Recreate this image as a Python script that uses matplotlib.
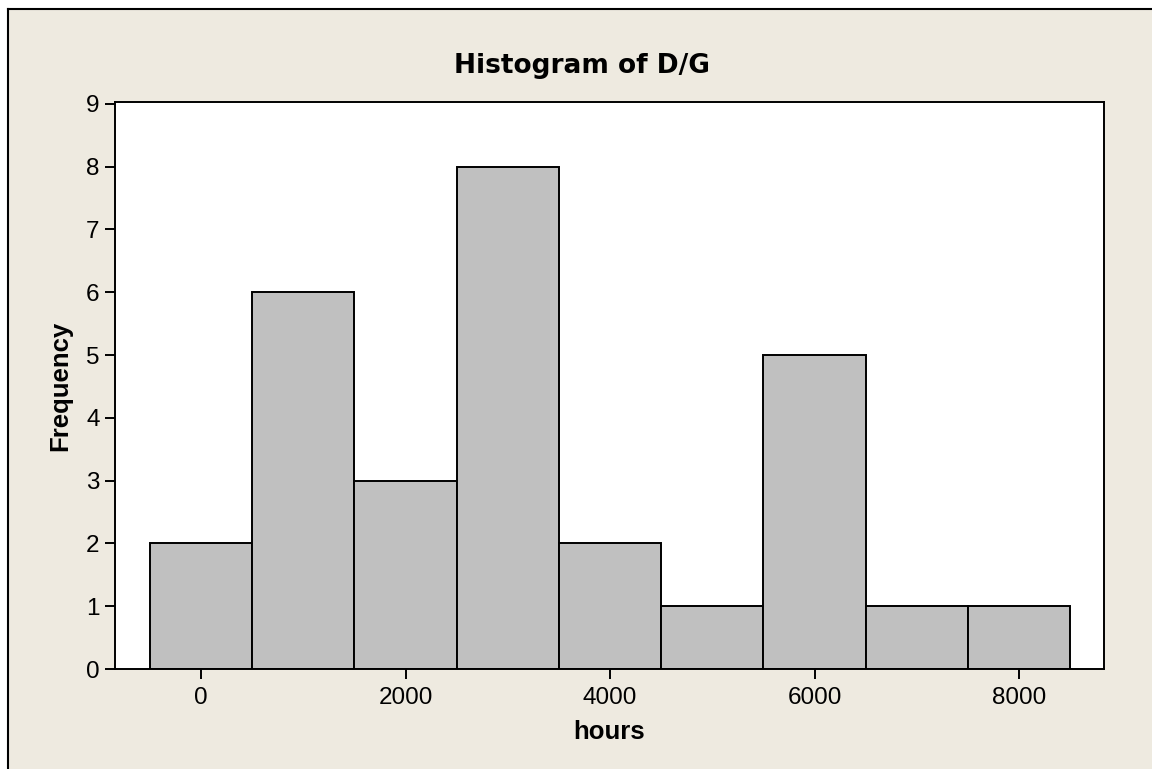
import matplotlib
matplotlib.use("Agg")
import matplotlib.pyplot as plt
from matplotlib.patches import Rectangle

# bin centers (hours) and counts
bin_centers = [0, 1000, 2000, 3000, 4000, 5000, 6000, 7000, 8000]
counts = [2, 6, 3, 8, 2, 1, 5, 1, 1]
bin_width = 1000
x_ticks = [0, 2000, 4000, 6000, 8000]
y_ticks = list(range(0, 10))

plt.rcParams['font.family'] = ['Liberation Sans', 'DejaVu Sans']

fig = plt.figure(figsize=(11.52, 7.69), dpi=100)
fig.patch.set_facecolor("white")

# beige graph region with frame on left/top
bg = Rectangle((8 / 1152, 0), 1.0, 1 - 9 / 769, transform=fig.transFigure,
               facecolor="#eeeae0", edgecolor="none", zorder=-2)
fig.patches.append(bg)
fig.add_artist(plt.Line2D([8 / 1152, 8 / 1152], [0, 1 - 9 / 769],
                          transform=fig.transFigure, color="black", lw=1.5))
fig.add_artist(plt.Line2D([8 / 1152, 1], [1 - 9 / 769, 1 - 9 / 769],
                          transform=fig.transFigure, color="black", lw=1.5))

ax = fig.add_axes([115 / 1152, 1 - 669 / 769, (1104 - 115) / 1152, (669 - 102) / 769])
ax.set_facecolor("white")

ax.bar(bin_centers, counts, width=bin_width, color="#c0c0c0",
       edgecolor="black", linewidth=1.4)

ax.set_xlim(-841, 8831)
ax.set_ylim(0, 9.03)
ax.set_xticks(x_ticks)
ax.set_yticks(y_ticks)
ax.tick_params(direction="out", length=7, width=1.4, labelsize=17.5, pad=4)
ax.tick_params(axis="x", pad=6)

for s in ax.spines.values():
    s.set_linewidth(1.4)

# title sits a bit left of the axes centre, as in the original
fig.text(582 / 1152, 1 - 66 / 769, "Histogram of D/G", fontsize=19,
         fontweight="bold", family="DejaVu Sans", ha="center", va="center")
ax.set_xlabel("hours", fontsize=18.5, fontweight="bold", labelpad=8)
ax.set_ylabel("Frequency", fontsize=18.5, fontweight="bold", labelpad=10)

fig.savefig("out.png", dpi=100)
